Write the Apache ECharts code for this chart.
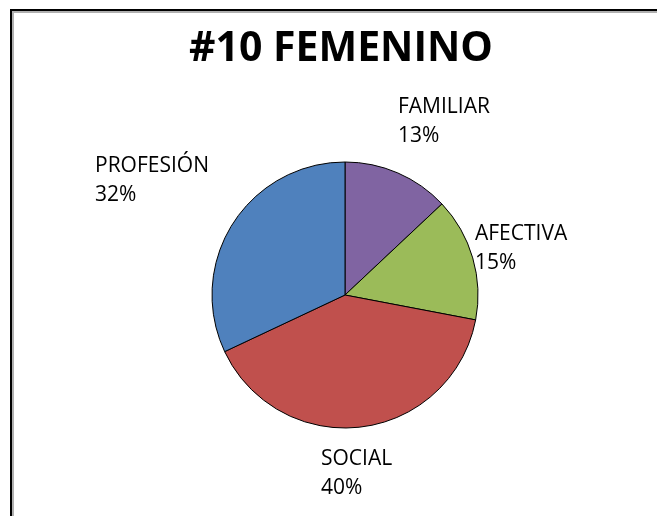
<!DOCTYPE html>
<html>
<head>
<meta charset="utf-8">
<script src="https://cdn.jsdelivr.net/npm/echarts@6/dist/echarts.min.js"></script>
<style>
  html, body { margin: 0; padding: 0; background: #fff; }
  #main { width: 657px; height: 516px; position: absolute; left: 0; top: 0; }
  #frame {
    position: absolute; left: 10px; top: 9px; width: 700px; height: 600px;
    border-top: 2px solid #000; border-left: 2px solid #000;
    box-shadow: inset 2px 2px 0 #b0b0b0;
  }
</style>
</head>
<body>
<div id="frame"></div>
<div id="main"></div>
<script>
const titleText = '#10 FEMENINO';
const categories = ['FAMILIAR', 'AFECTIVA', 'SOCIAL', 'PROFESIÓN'];
const values = [13, 15, 40, 32];
const colors = ['#8064A2', '#9BBB59', '#C0504D', '#4F81BD'];
// where each label block starts (top-left)
const labelPos = [[398, 93], [475, 220], [321, 445], [95, 152]];

const chart = echarts.init(document.getElementById('main'));
const option = {
    title: {
        text: titleText,
        left: 336,
        textAlign: 'center',
        top: 24,
        textStyle: { fontFamily: 'Open Sans', fontWeight: 'bold', fontSize: 41, color: '#000' }
    },
    series: [{
        type: 'pie',
        center: [345, 295],
        radius: 133,
        startAngle: 90,
        clockwise: true,
        animation: false,
        silent: true,
        data: categories.map((c, i) => ({
            name: c,
            value: values[i],
            itemStyle: { color: colors[i] }
        })),
        itemStyle: { borderColor: '#000', borderWidth: 1 },
        label: {
            show: true,
            position: 'outside',
            formatter: '{b}\n{d}%',
            fontFamily: 'Open Sans',
            fontSize: 21,
            lineHeight: 29,
            color: '#000',
            align: 'left'
        },
        labelLine: { show: false },
        labelLayout: (params) => ({
            x: labelPos[params.dataIndex][0],
            y: labelPos[params.dataIndex][1],
            align: 'left',
            verticalAlign: 'top'
        })
    }]
};
chart.setOption(option);
</script>
</body>
</html>
